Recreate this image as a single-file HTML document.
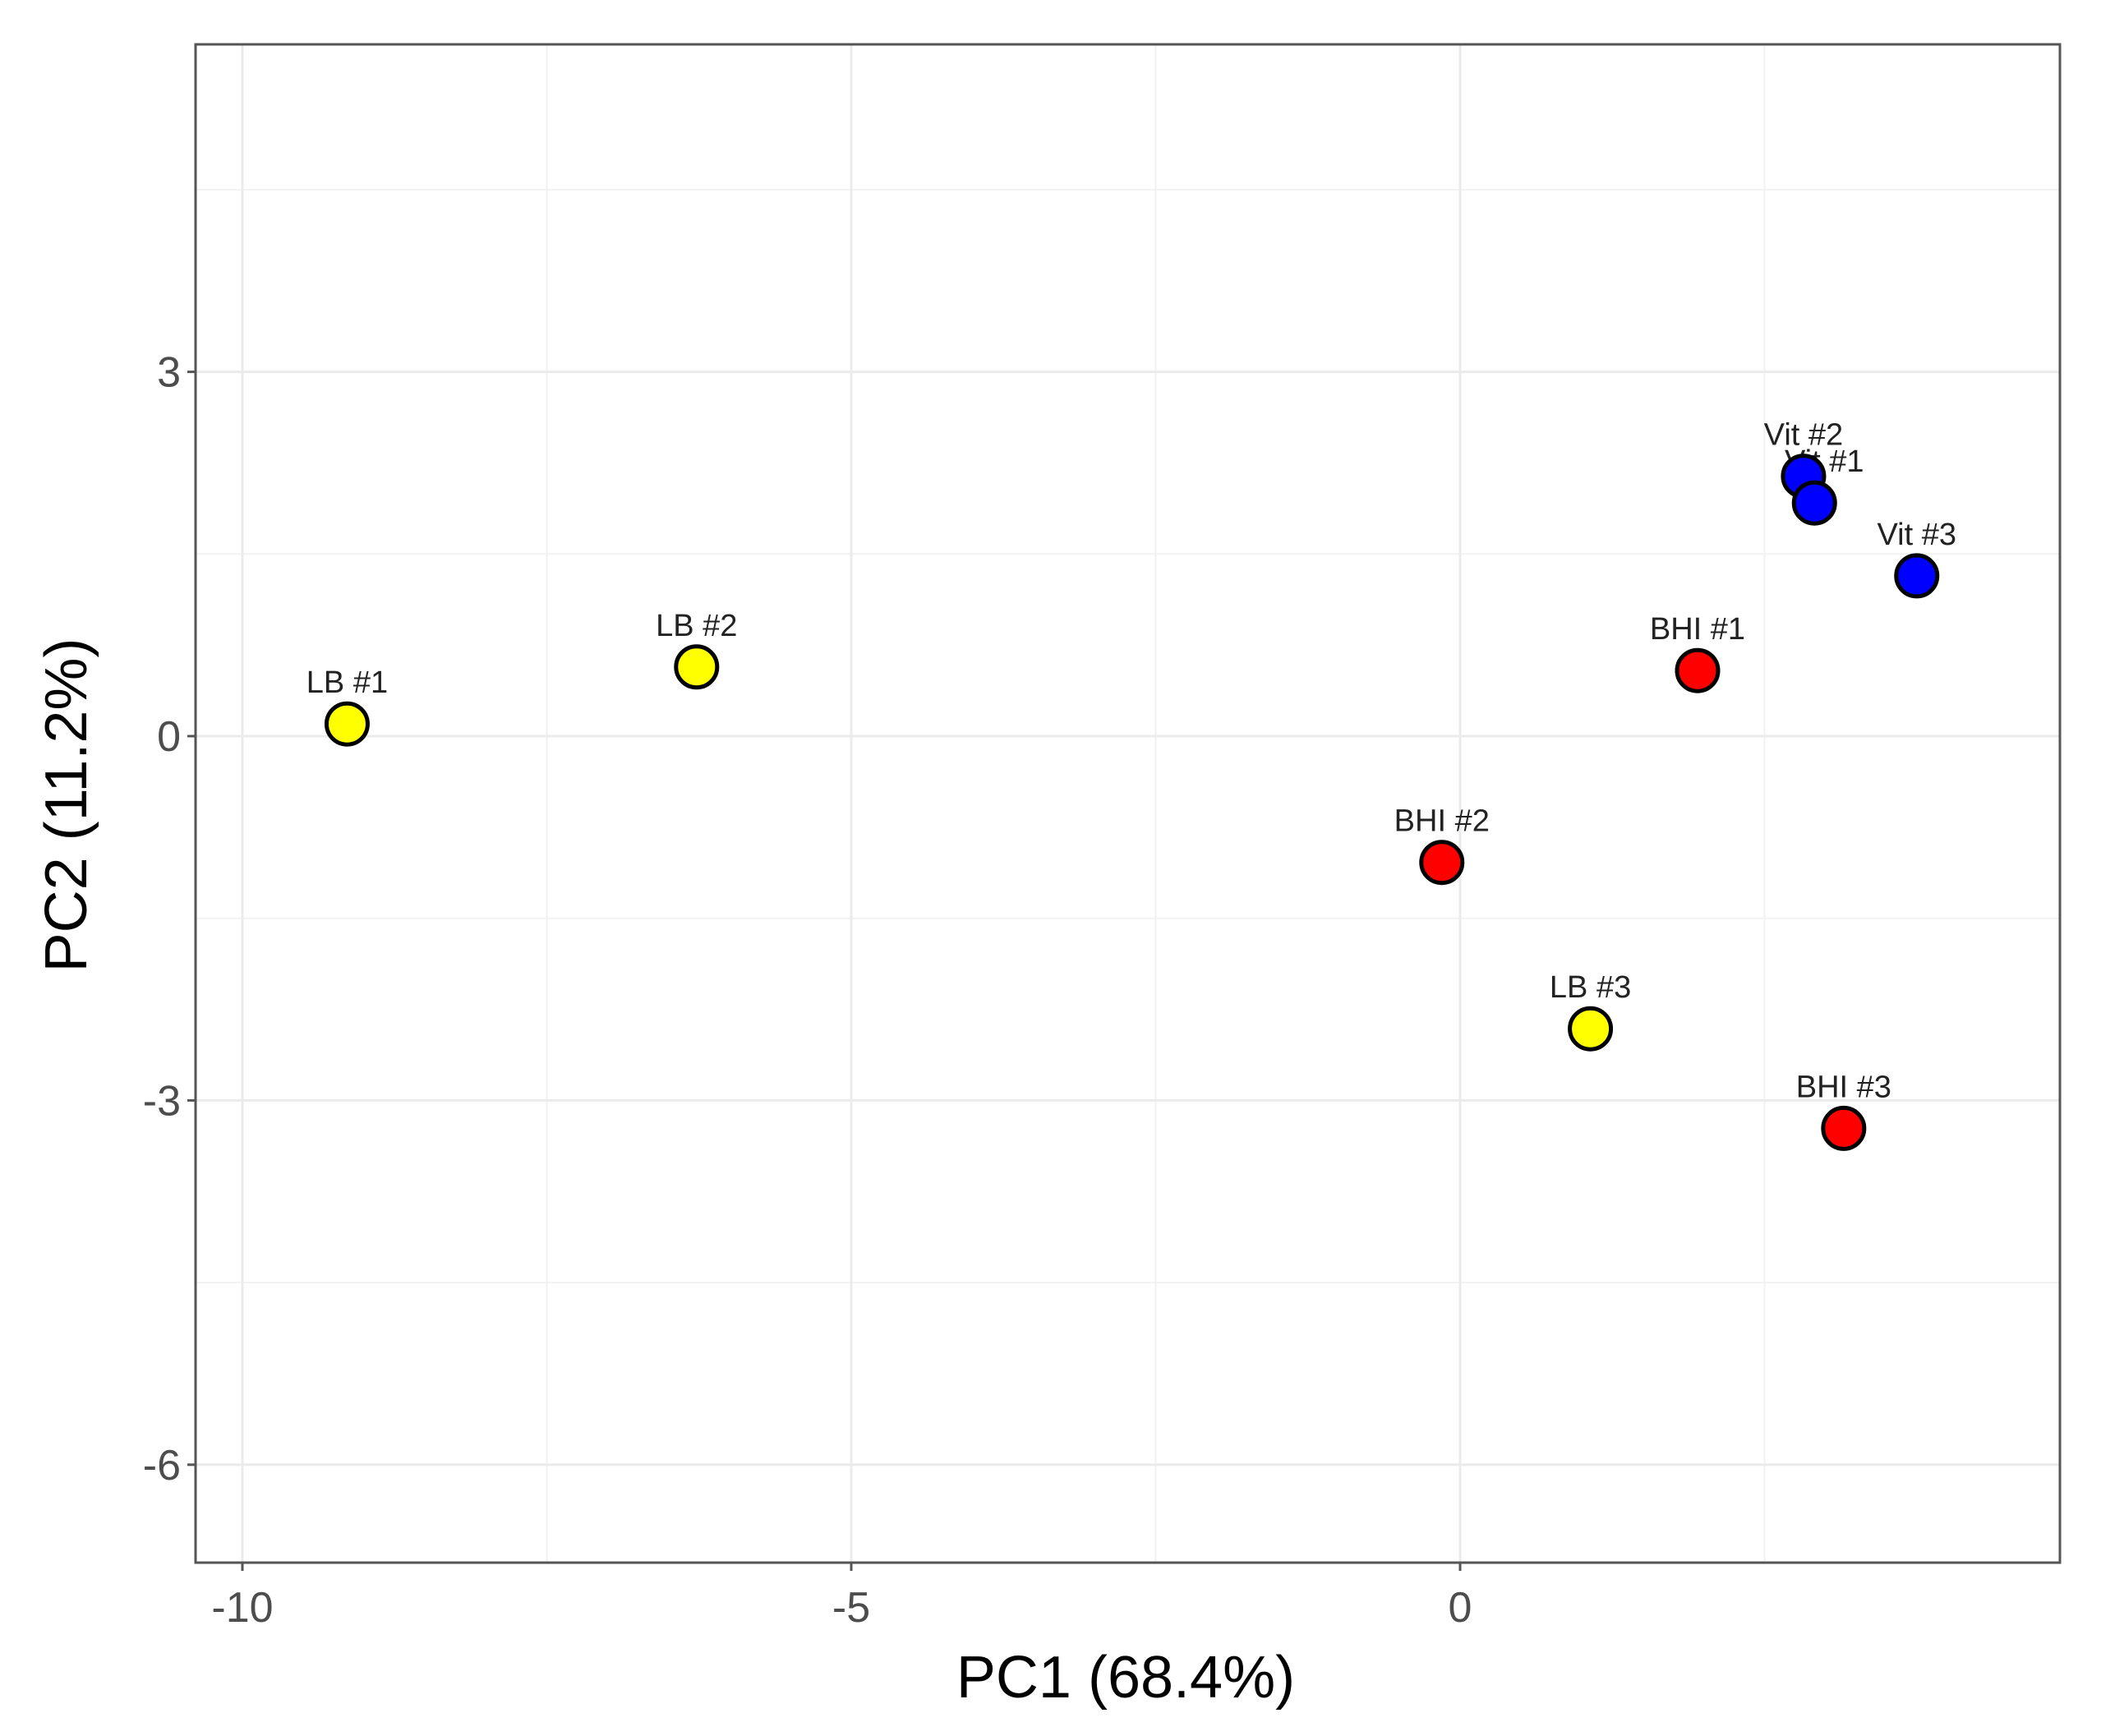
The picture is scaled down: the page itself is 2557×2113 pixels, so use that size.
<!DOCTYPE html>
<html><head><meta charset="utf-8"><style>
html,body{margin:0;padding:0;background:#fff;}
svg{display:block;font-family:"Liberation Sans",sans-serif;}
</style></head><body>
<svg id="chart" width="2557" height="2113" viewBox="0 0 2557 2113"></svg>
<script>
const labels=["LB #1","LB #2","LB #3","BHI #1","BHI #2","BHI #3","Vit #2","Vit #1","Vit #3"];
const pc1=[-9.14,-6.27,1.07,1.95,-0.15,3.15,2.82,2.91,3.75];
const pc2=[0.10,0.57,-2.41,0.54,-1.04,-3.23,2.14,1.92,1.32];
const groups=["LB","LB","LB","BHI","BHI","BHI","Vit","Vit","Vit"];
const xTicks=[-10,-5,0];
const yTicks=[3,0,-3,-6];
const xMinor=[-7.5,-2.5,2.5];
const yMinor=[4.5,1.5,-1.5,-4.5];
const colors={LB:"#ffff00",BHI:"#ff0000",Vit:"#0000ff"};
const L=238,R=2507,T=54,B=1902;
const sx=v=>1777+v*148.2;
const sy=v=>896-v*147.8;
const NS="http://www.w3.org/2000/svg";
const svg=document.getElementById('chart');
function mk(tag,attrs,parent){const e=document.createElementNS(NS,tag);for(const k in attrs)e.setAttribute(k,attrs[k]);(parent||svg).appendChild(e);return e;}
const grid=mk('g',{});


xMinor.forEach(v=>{mk('line',{x1:sx(v),x2:sx(v),y1:T,y2:B,stroke:"#f2f2f2","stroke-width":2},grid);});
yMinor.forEach(v=>{mk('line',{x1:L,x2:R,y1:sy(v),y2:sy(v),stroke:"#f2f2f2","stroke-width":2},grid);});
xTicks.forEach(v=>{mk('line',{x1:sx(v),x2:sx(v),y1:T,y2:B,stroke:"#ebebeb","stroke-width":3},grid);});
yTicks.forEach(v=>{mk('line',{x1:L,x2:R,y1:sy(v),y2:sy(v),stroke:"#ebebeb","stroke-width":3},grid);});
const frame=mk('rect',{x:L,y:T,width:R-L,height:B-T,fill:"none",stroke:"#555","stroke-width":3});


xTicks.forEach(v=>{
 mk('line',{x1:sx(v),x2:sx(v),y1:B,y2:B+10,stroke:"#555","stroke-width":3});
 const t=mk('text',{x:sx(v),y:B+72,"text-anchor":"middle","font-size":52,fill:"#4d4d4d"});
 t.textContent=v;
 
 
});
yTicks.forEach(v=>{
 mk('line',{x1:L-10,x2:L,y1:sy(v),y2:sy(v),stroke:"#555","stroke-width":3});
 const t=mk('text',{x:L-18,y:sy(v)+18,"text-anchor":"end","font-size":52,fill:"#4d4d4d"});
 t.textContent=v;
 
 
});
const xt=mk('text',{x:1370,y:2066,"text-anchor":"middle","font-size":72,fill:"#000"});
xt.textContent="PC1 (68.4%)";


const yt=mk('text',{x:0,y:0,"text-anchor":"middle","font-size":72,fill:"#000",transform:"translate(105,980) rotate(-90)"});
yt.textContent="PC2 (11.2%)";


labels.forEach((lab,i)=>{
 const dx=lab==="Vit #1"?12:0;
 const t=mk('text',{x:sx(pc1[i])+dx,y:sy(pc2[i])-38,"text-anchor":"middle","font-size":38,fill:"#222"});
 t.textContent=lab;
 
 
});
labels.forEach((lab,i)=>{
 const c=mk('circle',{cx:sx(pc1[i]),cy:sy(pc2[i]),r:25,fill:colors[groups[i]],stroke:"#000","stroke-width":5});
 
 
});
</script>
</body></html>
